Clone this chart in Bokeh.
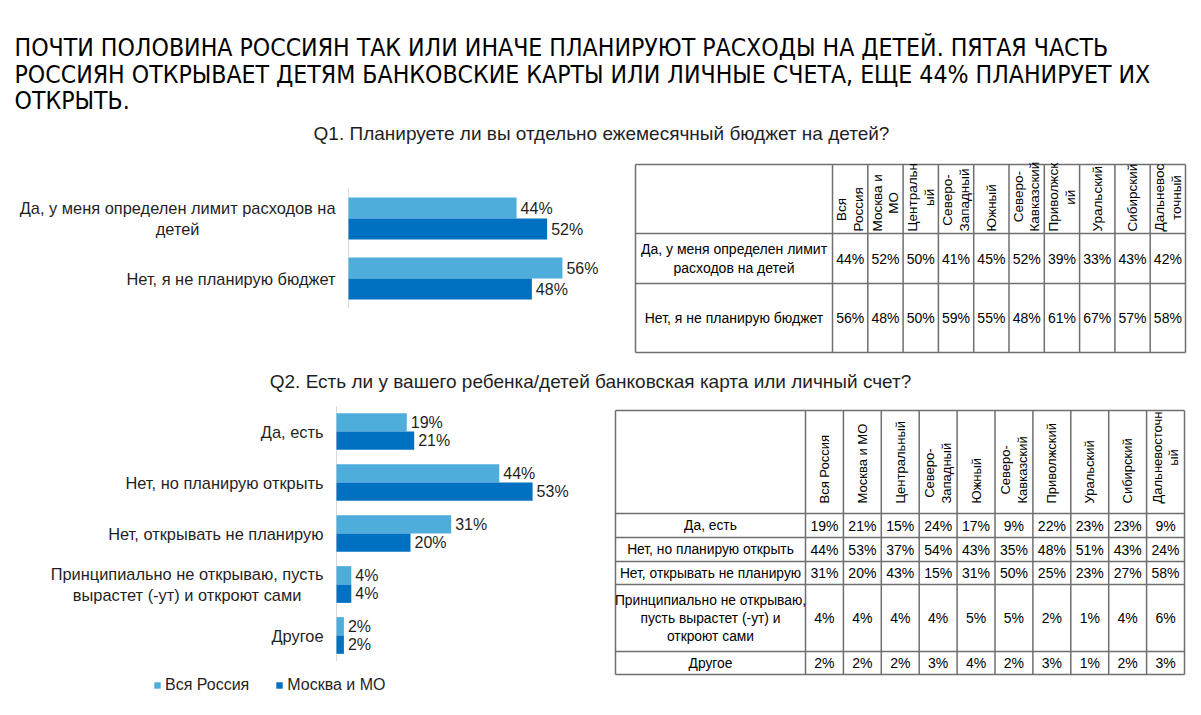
import numpy as np
from bokeh.plotting import figure
from bokeh.models import Range1d, ColumnDataSource, Legend, LegendItem
from bokeh.layouts import column, row
from bokeh.embed import file_html
from bokeh.resources import INLINE
from bokeh.core.properties import value

# ---------------- DATA ----------------
title_lines = [
    "ПОЧТИ ПОЛОВИНА РОССИЯН ТАК ИЛИ ИНАЧЕ ПЛАНИРУЮТ РАСХОДЫ НА ДЕТЕЙ.  ПЯТАЯ ЧАСТЬ",
    "РОССИЯН ОТКРЫВАЕТ ДЕТЯМ БАНКОВСКИЕ КАРТЫ ИЛИ  ЛИЧНЫЕ СЧЕТА, ЕЩЕ 44% ПЛАНИРУЕТ ИХ",
    "ОТКРЫТЬ.",
]
q1_title = "Q1. Планируете ли вы отдельно ежемесячный бюджет на детей?"
q2_title = "Q2. Есть ли у вашего ребенка/детей банковская карта или личный счет?"

series_names = ["Вся Россия", "Москва и МО"]

q1_categories = ["Да, у меня определен лимит расходов на\nдетей", "Нет, я не планирую бюджет"]
q1_russia = [44, 56]
q1_moscow = [52, 48]

q2_categories = ["Да, есть", "Нет, но планирую открыть", "Нет, открывать не планирую",
                 "Принципиально не открываю, пусть\nвырастет (-ут) и откроют сами", "Другое"]
q2_russia = [19, 44, 31, 4, 2]
q2_moscow = [21, 53, 20, 4, 2]

q1_regions = ["Вся\nРоссия", "Москва и\nМО", "Центральн\nый", "Северо-\nЗападный", "Южный",
              "Северо-\nКавказский", "Приволжск\nий", "Уральский", "Сибирский", "Дальневос\nточный"]
q1_row_labels = ["Да, у меня определен лимит\nрасходов на детей", "Нет, я не планирую бюджет"]
q1_table = [
    [44, 52, 50, 41, 45, 52, 39, 33, 43, 42],
    [56, 48, 50, 59, 55, 48, 61, 67, 57, 58],
]

q2_regions = ["Вся Россия", "Москва и МО", "Центральный", "Северо-\nЗападный", "Южный",
              "Северо-\nКавказский", "Приволжский", "Уральский", "Сибирский", "Дальневосточн\nый"]
q2_row_labels = ["Да, есть", "Нет, но планирую открыть", "Нет, открывать не планирую",
                 "Принципиально не открываю,\nпусть вырастет (-ут) и\nоткроют сами", "Другое"]
q2_table = [
    [19, 21, 15, 24, 17, 9, 22, 23, 23, 9],
    [44, 53, 37, 54, 43, 35, 48, 51, 43, 24],
    [31, 20, 43, 15, 31, 50, 25, 23, 27, 58],
    [4, 4, 4, 4, 5, 5, 2, 1, 4, 6],
    [2, 2, 2, 3, 4, 2, 3, 1, 2, 3],
]

# ---------------- STYLE ----------------
LIGHT = "#4FADDB"
DARK = "#0070C0"
TXT = "#1F1F1F"
GRID = "#6F6F6F"
FONT = value("Liberation Sans")
TITLE_FONT = value("'DejaVu Sans Condensed', 'DejaVu Sans', sans-serif")


def base_fig(w, h, xr, yr):
    p = figure(width=w, height=h, x_range=xr, y_range=yr, output_backend="svg",
               toolbar_location=None, x_axis_location=None, y_axis_location=None,
               min_border=0)
    p.grid.visible = False
    p.outline_line_color = None
    p.background_fill_color = "white"
    p.border_fill_color = "white"
    return p


# ---------------- HEADER ----------------
hdr = base_fig(1185, 142, Range1d(0, 1185), Range1d(142, 0))
hdr.text(x=[6, 6, 6], y=[39, 66, 92], text=title_lines, text_font=TITLE_FONT,
         text_font_size="24.6px", text_color="#000000", text_baseline="alphabetic",
         text_align="left")
hdr.text(x=[593], y=[125], text=[q1_title], text_font=FONT, text_font_size="19px",
         text_color=TXT, text_align="center", text_baseline="middle")

q2h = base_fig(1185, 38, Range1d(0, 1185), Range1d(38, 0))
q2h.text(x=[582], y=[19], text=[q2_title], text_font=FONT, text_font_size="19px",
         text_color=TXT, text_align="center", text_baseline="middle")


# ---------------- BAR CHARTS ----------------
def bar_fig(cats, s1, s2, w, h, axis_px, c0_px, band_px, px_pct, frac, lab_gap, legend_loc=None):
    xr = Range1d(-axis_px / px_pct, (w - axis_px) / px_pct)
    yr = Range1d((h - c0_px) / band_px, -c0_px / band_px)
    p = base_fig(w, h, xr, yr)
    n = len(cats)
    idx = np.arange(n)
    src = ColumnDataSource(dict(
        ya=idx - frac / 2, yb=idx + frac / 2, a=s1, b=s2,
        la=[f"{v}%" for v in s1], lb=[f"{v}%" for v in s2]))
    p.segment(x0=[0], y0=[-0.5], x1=[0], y1=[n - 0.5], line_color="#D9D9D9", line_width=1)
    r1 = p.hbar(y="ya", height=frac, left=0, right="a", source=src, fill_color=LIGHT, line_color=None)
    r2 = p.hbar(y="yb", height=frac, left=0, right="b", source=src, fill_color=DARK, line_color=None)
    for col, ycol in (("a", "ya"), ("b", "yb")):
        p.text(x=col, y=ycol, text="l" + col, source=src, x_offset=4, text_align="left",
               text_baseline="middle", text_font=FONT, text_font_size="16px", text_color=TXT)
    p.text(x=[0] * n, y=idx, text=cats, x_offset=-lab_gap, anchor=value("center_right"),
           text_align="center", text_font=FONT, text_font_size="16.4px", text_color=TXT)
    if legend_loc is not None:
        lg = Legend(items=[LegendItem(label=series_names[0], renderers=[r1]),
                           LegendItem(label=series_names[1], renderers=[r2])],
                    orientation="horizontal", location=legend_loc, glyph_width=8,
                    glyph_height=8, label_standoff=4, spacing=26, padding=0, margin=0,
                    border_line_color=None, background_fill_alpha=0,
                    label_text_font="Liberation Sans", label_text_font_size="16px",
                    label_text_color=TXT, label_height=16)
        p.add_layout(lg)
    return p


b1 = bar_fig(q1_categories, q1_russia, q1_moscow, 612, 212, 340, 68, 60, 3.82, 0.35, 13)
b2 = bar_fig(q2_categories, q2_russia, q2_moscow, 597, 300, 328, 31, 51, 3.7, 0.36, 13,
             legend_loc=(145, 6))


# ---------------- TABLES ----------------
def table_fig(w, h, left, top, label_w, col_w, row_hs, headers, row_labels, vals, hpad, hsize,
              lsize):
    p = base_fig(w, h, Range1d(0, w), Range1d(h, 0))
    ncol = len(headers)
    xs = [left, left + label_w] + [left + label_w + k * col_w for k in range(1, ncol + 1)]
    ys = list(top + np.concatenate([[0], np.cumsum(row_hs)]))
    right, bottom = xs[-1], ys[-1]
    p.segment(x0=xs, y0=[top] * len(xs), x1=xs, y1=[bottom] * len(xs), line_color=GRID, line_width=1.5)
    p.segment(x0=[left] * len(ys), y0=ys, x1=[right] * len(ys), y1=ys, line_color=GRID, line_width=1.5)
    cx = [left + label_w + (k + 0.5) * col_w for k in range(ncol)]
    p.text(x=cx, y=[ys[1] - hpad] * ncol, text=headers, angle=np.pi / 2,
           anchor=value("center_left"), text_align="center", text_font=FONT,
           text_font_size=hsize, text_color="#000000", text_line_height=1.1)
    rc = [(ys[i + 1] + ys[i + 2]) / 2 for i in range(len(row_labels))]
    p.text(x=[left + label_w / 2] * len(row_labels), y=rc, text=row_labels, text_align="center",
           text_baseline="middle", text_font=FONT, text_font_size=lsize, text_color="#000000",
           text_line_height=1.2)
    tx, ty, tt = [], [], []
    for i, rowv in enumerate(vals):
        for k, v in enumerate(rowv):
            tx.append(cx[k]); ty.append(rc[i]); tt.append(f"{v}%")
    p.text(x=tx, y=ty, text=tt, text_align="center", text_baseline="middle", text_font=FONT,
           text_font_size="14px", text_color="#000000")
    return p


t1 = table_fig(573, 212, 15, 14, 197, 35.3, [69, 50, 69], q1_regions, q1_row_labels, q1_table,
               2, "13.5px", "14px")
t2 = table_fig(588, 300, 10, 10, 190, 37.9, [103, 24, 24, 23, 67, 23], q2_regions, q2_row_labels,
               q2_table, 10, "13px", "13.8px")

layout = column(hdr, row(b1, t1, spacing=0), q2h, row(b2, t2, spacing=0), spacing=0,
                margin=(8, 0, 0, 8))

open("out.html", "w").write(file_html(layout, INLINE))
